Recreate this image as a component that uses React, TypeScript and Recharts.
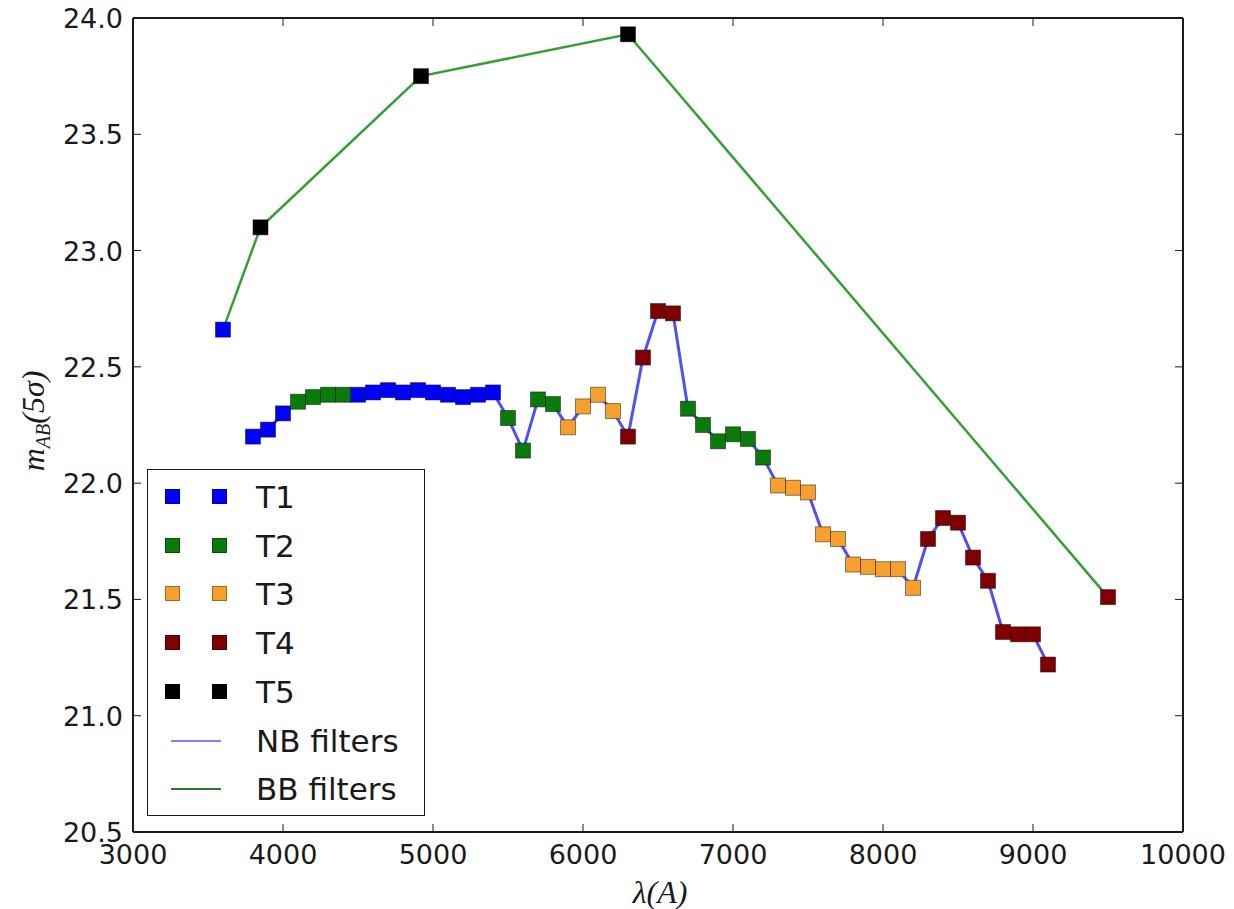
import React from 'react';
import { ComposedChart, Scatter, Line, XAxis, YAxis } from 'recharts';

// narrow-band filters (wavelength in A, 5-sigma AB depth, tray)
const nbWave = [
  3800, 3900, 4000, 4100, 4200, 4300, 4400, 4500, 4600, 4700, 4800, 4900, 5000, 5100, 5200, 5300, 5400,
  5500, 5600, 5700, 5800, 5900, 6000, 6100, 6200, 6300, 6400, 6500, 6600, 6700, 6800, 6900, 7000, 7100,
  7200, 7300, 7400, 7500, 7600, 7700, 7800, 7900, 8000, 8100, 8200, 8300, 8400, 8500, 8600, 8700, 8800,
  8900, 9000, 9100,
];
const nbMag = [
  22.2, 22.23, 22.3, 22.35, 22.37, 22.38, 22.38, 22.38, 22.39, 22.4, 22.39, 22.4, 22.39, 22.38, 22.37, 22.38, 22.39,
  22.28, 22.14, 22.36, 22.34, 22.24, 22.33, 22.38, 22.31, 22.2, 22.54, 22.74, 22.73, 22.32, 22.25, 22.18, 22.21, 22.19,
  22.11, 21.99, 21.98, 21.96, 21.78, 21.76, 21.65, 21.64, 21.63, 21.63, 21.55, 21.76, 21.85, 21.83, 21.68, 21.58, 21.36,
  21.35, 21.35, 21.22,
];
const nbTray = [
  'T1', 'T1', 'T1', 'T2', 'T2', 'T2', 'T2', 'T1', 'T1', 'T1', 'T1', 'T1', 'T1', 'T1', 'T1', 'T1', 'T1',
  'T2', 'T2', 'T2', 'T2', 'T3', 'T3', 'T3', 'T3', 'T4', 'T4', 'T4', 'T4', 'T2', 'T2', 'T2', 'T2', 'T2',
  'T2', 'T3', 'T3', 'T3', 'T3', 'T3', 'T3', 'T3', 'T3', 'T3', 'T3', 'T4', 'T4', 'T4', 'T4', 'T4', 'T4',
  'T4', 'T4', 'T4',
];

// broad-band filters
const bbWave = [3600, 3850, 4920, 6300, 9500];
const bbMag = [22.66, 23.1, 23.75, 23.93, 21.51];
const bbTray = ['T1', 'T5', 'T5', 'T5', 'T4'];

const trays = ['T1', 'T2', 'T3', 'T4', 'T5'];
const trayColors: Record<string, string> = {
  T1: '#0000ff',
  T2: '#0a7a0a',
  T3: '#f7a030',
  T4: '#7f0000',
  T5: '#000000',
};

const xTicks = [3000, 4000, 5000, 6000, 7000, 8000, 9000, 10000];
const yTicks = [20.5, 21.0, 21.5, 22.0, 22.5, 23.0, 23.5, 24.0];

const nbLine = nbWave.map((x, i) => ({ x, y: nbMag[i] }));
const bbLine = bbWave.map((x, i) => ({ x, y: bbMag[i] }));
const trayPoints = (t: string) => [
  ...nbWave.map((x, i) => ({ x, y: nbMag[i], t: nbTray[i] })),
  ...bbWave.map((x, i) => ({ x, y: bbMag[i], t: bbTray[i] })),
].filter((p) => p.t === t);

const NB_COLOR = '#5050f5';
const BB_COLOR = '#33a033';
const TXT = '#1a1a1a';
const AXIS = '#1a1a1a';
const TICK_LEN = 8;
const MK = 15;

const square = (color: string) => (props: any) => {
  const { cx, cy } = props;
  if (cx == null || cy == null) return <g />;
  return (
    <rect x={cx - MK / 2} y={cy - MK / 2} width={MK} height={MK} fill={color}
      stroke="#000" strokeOpacity={0.45} strokeWidth={1} />
  );
};

const BottomTick = (props: any) => {
  const { x, y, payload } = props;
  return (
    <g>
      <line x1={x} y1={y} x2={x} y2={y - TICK_LEN} stroke={AXIS} strokeWidth={1} />
      <text x={x} y={y} dy={32} textAnchor="middle" fill={TXT} fontSize={27}
        fontFamily="DejaVu Sans, sans-serif">{payload.value}</text>
    </g>
  );
};

const LeftTick = (props: any) => {
  const { x, y, payload } = props;
  return (
    <g>
      <line x1={x} y1={y} x2={x + TICK_LEN} y2={y} stroke={AXIS} strokeWidth={1} />
      <text x={x - 10} y={y} dy={10} textAnchor="end" fill={TXT} fontSize={27}
        fontFamily="DejaVu Sans, sans-serif">{Number(payload.value).toFixed(1)}</text>
    </g>
  );
};

const TopTick = (props: any) => {
  const { x, y } = props;
  return <line x1={x} y1={y} x2={x} y2={y + TICK_LEN} stroke={AXIS} strokeWidth={1} />;
};

const RightTick = (props: any) => {
  const { x, y } = props;
  return <line x1={x} y1={y} x2={x - TICK_LEN} y2={y} stroke={AXIS} strokeWidth={1} />;
};

const legendItems = [
  ...trays.map((t) => ({ label: t, kind: 'marker', color: trayColors[t] })),
  { label: 'NB filters', kind: 'line', color: '#8080ff' },
  { label: 'BB filters', kind: 'line', color: '#2a7a2a' },
];

function LegendBox() {
  return (
    <div style={{
      position: 'absolute', left: 147, top: 469, width: 278, height: 347, boxSizing: 'border-box',
      border: `1.5px solid ${AXIS}`, background: '#fff', fontFamily: 'DejaVu Sans, sans-serif',
    }}>
      {legendItems.map((it, i) => (
        <div key={it.label} style={{ position: 'absolute', left: 0, top: 27 + i * 48.7 - 20, height: 40, width: '100%' }}>
          {it.kind === 'marker' ? (
            <>
              <div style={{ position: 'absolute', left: 17, top: 12, width: 15, height: 15, background: it.color, boxShadow: 'inset 0 0 0 1px rgba(0,0,0,0.35)' }} />
              <div style={{ position: 'absolute', left: 64, top: 12, width: 15, height: 15, background: it.color, boxShadow: 'inset 0 0 0 1px rgba(0,0,0,0.35)' }} />
            </>
          ) : (
            <div style={{ position: 'absolute', left: 23, top: 19, width: 50, height: 2, background: it.color }} />
          )}
          <div style={{ position: 'absolute', left: 108, top: 0, lineHeight: '40px', fontSize: 31, color: TXT, whiteSpace: 'nowrap' }}>
            {it.label}
          </div>
        </div>
      ))}
    </div>
  );
}

export default function App() {
  return (
    <div style={{ position: 'absolute', left: 0, top: 0, width: 1234, height: 909, background: '#fff' }}>
      <ComposedChart width={1234} height={909} margin={{ top: 0, right: 0, bottom: 0, left: 0 }}>
        <XAxis xAxisId={0} dataKey="x" type="number" domain={[3000, 10000]} ticks={xTicks} interval={0}
          allowDataOverflow height={77} tickSize={0} tickMargin={0} tick={<BottomTick />}
          axisLine={{ stroke: AXIS, strokeWidth: 2 }} tickLine={false} />
        <XAxis xAxisId="top" orientation="top" dataKey="x" type="number" domain={[3000, 10000]} ticks={xTicks}
          interval={0} allowDataOverflow height={18} tickSize={0} tickMargin={0} tick={<TopTick />}
          axisLine={{ stroke: AXIS, strokeWidth: 2 }} tickLine={false} />
        <YAxis yAxisId={0} type="number" domain={[20.5, 24]} ticks={yTicks} interval={0} allowDataOverflow
          width={133} tickSize={0} tickMargin={0} tick={<LeftTick />}
          axisLine={{ stroke: AXIS, strokeWidth: 2 }} tickLine={false} />
        <YAxis yAxisId="right" orientation="right" type="number" domain={[20.5, 24]} ticks={yTicks} interval={0}
          allowDataOverflow width={51} tickSize={0} tickMargin={0} tick={<RightTick />}
          axisLine={{ stroke: AXIS, strokeWidth: 2 }} tickLine={false} />

        {trays.map((t) => (
          <Scatter key={t} name={t} data={trayPoints(t)} dataKey="y" shape={square(trayColors[t])}
            isAnimationActive={false} />
        ))}
        <Line data={nbLine} dataKey="y" type="linear" stroke={NB_COLOR} strokeWidth={3} dot={false}
          activeDot={false} isAnimationActive={false} name="NB filters" />
        <Line data={bbLine} dataKey="y" type="linear" stroke={BB_COLOR} strokeWidth={2.5} dot={false}
          activeDot={false} isAnimationActive={false} name="BB filters" />
      </ComposedChart>

      <LegendBox />

      <div style={{
        position: 'absolute', left: 660, top: 892, transform: 'translate(-50%, -50%)',
        fontFamily: 'Liberation Serif, serif', fontStyle: 'italic', fontSize: 32, color: TXT, whiteSpace: 'nowrap',
      }}>
        λ(A)
      </div>
      <div style={{
        position: 'absolute', left: 35, top: 421, transform: 'translate(-50%, -50%) rotate(-90deg)',
        fontFamily: 'Liberation Serif, serif', fontStyle: 'italic', fontSize: 32, color: TXT, whiteSpace: 'nowrap',
      }}>
        m<sub style={{ fontSize: 20, verticalAlign: '-0.3em' }}>AB</sub>(5σ)
      </div>
    </div>
  );
}
